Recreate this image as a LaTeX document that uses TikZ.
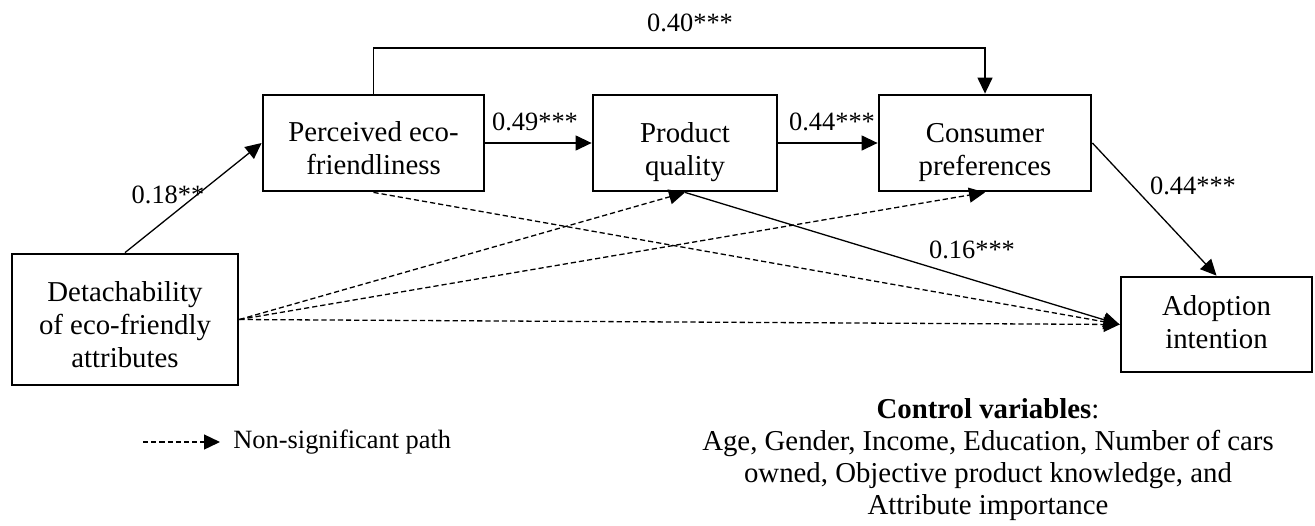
\documentclass[tikz,border=0pt]{standalone}
\usepackage{fontspec}
\setmainfont{Liberation Serif}
\usetikzlibrary{arrows.meta}
\begin{document}
\begin{tikzpicture}[x=0.5pt,y=-0.5pt,
  box/.style={draw,line width=1.4pt,inner sep=0pt},
  boxtext/.style={align=center,inner sep=0pt,
    font=\fontsize{14.4}{16.5}\selectfont},
  arr/.style={line width=0.65pt,-{Triangle[length=8pt,width=7.5pt]}},
  dsh/.style={dash pattern=on 2.6pt off 1.5pt},
  lbl/.style={font=\fontsize{13.2}{15}\selectfont,inner sep=0pt},
  ctrl/.style={font=\fontsize{14.4}{16}\selectfont,align=center,inner sep=0pt}]
\useasboundingbox (0,0) rectangle (1315,525);

% variable boxes
\node[box,minimum width=113pt,minimum height=65.5pt] (det) at (125,319.5) {};
\node[box,minimum width=110.5pt,minimum height=48pt] (pef) at (373.5,143) {};
\node[box,minimum width=92pt,minimum height=48pt] (pq) at (685,143) {};
\node[box,minimum width=106pt,minimum height=48pt] (cp) at (985,143) {};
\node[box,minimum width=95.5pt,minimum height=47.5pt] (ai) at (1216.5,324.5) {};

% box captions
\node[boxtext] (det-t) at (125,325) {Detachability\\of eco-friendly\\attributes};
\node[boxtext] (pef-t) at (373.5,148.5) {Perceived eco-\\friendliness};
\node[boxtext] (pq-t) at (685,152) {Product\\quality};
\node[boxtext] (cp-t) at (985,152.5) {Consumer\\preferences};
\node[boxtext] (ai-t) at (1216.5,322.5) {Adoption\\intention};

% significant paths
\coordinate (topL) at (373.5,48);
\draw[arr] (det.north) -- (pef.west);
\draw[arr] (pef.east) -- (pq.west);
\draw[arr] (pq.east) -- (cp.west);
\draw[arr] (pef.north) -- (topL) -| (cp.north);
\draw[arr] (cp.east) -- (ai.north);
\draw[arr] (pq.south) -- (ai.west);

% non-significant paths
\draw[arr,dsh] (pef.south) -- (ai.west);
\draw[arr,dsh] (det.east) -- (pq.south);
\draw[arr,dsh] (det.east) -- (cp.south);
\draw[arr,dsh] (det.east) -- (ai.west);

% path coefficients
\node[lbl] (c1) at (168,195) {0.18**};
\node[lbl] (c2) at (535,122) {0.49***};
\node[lbl] (c3) at (832,122) {0.44***};
\node[lbl] (c4) at (690,23) {0.40***};
\node[lbl] (c5) at (1193,186) {0.44***};
\node[lbl] (c6) at (972,250) {0.16***};

% legend
\coordinate (lgA) at (143,442);
\coordinate (lgB) at (220,442);
\draw[arr,dsh] (lgA) -- (lgB);
\node[lbl,anchor=west] (lgT) at (233,442) {Non-significant path};

% control variables
\node[ctrl] (ctl) at (988,460)
  {\textbf{Control variables}:\\Age, Gender, Income, Education, Number of cars\\owned, Objective product knowledge, and\\Attribute importance};
\end{tikzpicture}
\end{document}
